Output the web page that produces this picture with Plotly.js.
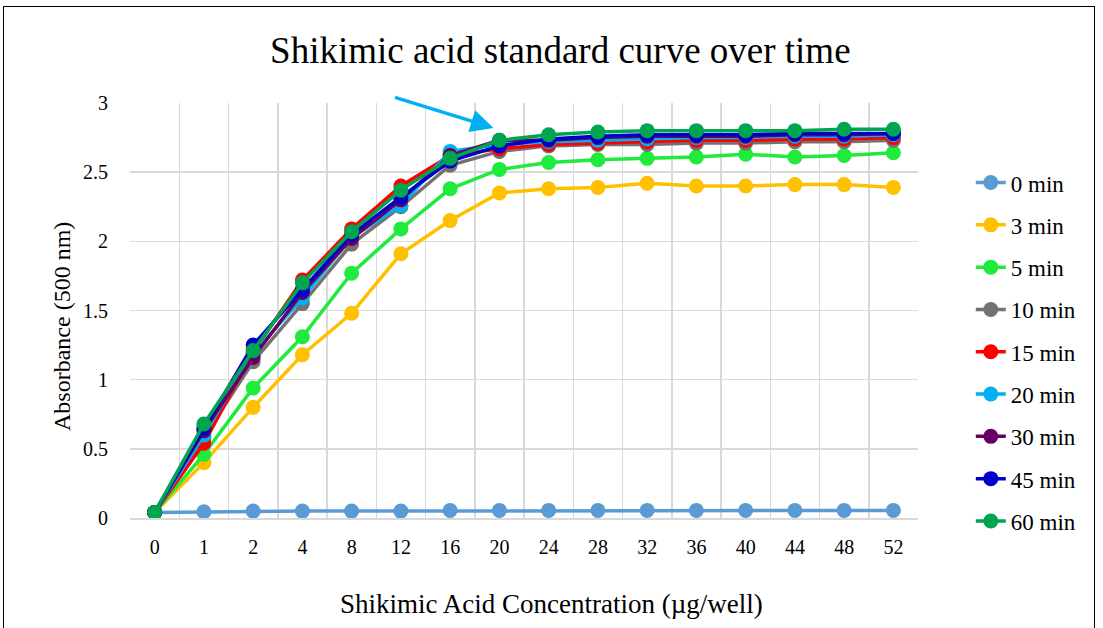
<!DOCTYPE html>
<html>
<head>
<meta charset="utf-8">
<script src="https://cdn.plot.ly/plotly-3.0.1.min.js"></script>
<style>
html,body{margin:0;padding:0;background:#fff;}
#wrap{position:relative;width:1103px;height:628px;overflow:hidden;}
#chart{position:absolute;left:0;top:0;width:1103px;height:628px;}
#frame{position:absolute;left:3px;top:6px;width:1092px;height:640px;border:1.5px solid #000;box-sizing:border-box;pointer-events:none;}
</style>
</head>
<body>
<div id="wrap"><div id="chart"></div><div id="frame"></div></div>
<script>
const categories = ["0","1","2","4","8","12","16","20","24","28","32","36","40","44","48","52"];
const seriesNames = ["0 min","3 min","5 min","10 min","15 min","20 min","30 min","45 min","60 min"];
const min0  = [0.04,0.045,0.05,0.05,0.05,0.05,0.055,0.055,0.055,0.055,0.055,0.055,0.055,0.055,0.055,0.055];
const min3  = [0.04,0.40,0.80,1.18,1.48,1.91,2.15,2.35,2.38,2.39,2.42,2.40,2.40,2.41,2.41,2.39];
const min5  = [0.04,0.46,0.94,1.31,1.77,2.09,2.38,2.52,2.57,2.59,2.60,2.61,2.63,2.61,2.62,2.64];
const min10 = [0.04,0.58,1.13,1.55,1.98,2.25,2.55,2.65,2.69,2.70,2.70,2.71,2.71,2.72,2.72,2.73];
const min15 = [0.04,0.54,1.20,1.72,2.09,2.40,2.62,2.67,2.70,2.71,2.72,2.73,2.73,2.74,2.74,2.75];
const min20 = [0.04,0.60,1.19,1.59,2.03,2.26,2.65,2.70,2.72,2.73,2.74,2.75,2.75,2.76,2.76,2.77];
const min30 = [0.04,0.63,1.16,1.63,2.02,2.30,2.62,2.73,2.73,2.75,2.76,2.76,2.76,2.77,2.77,2.78];
const min45 = [0.04,0.65,1.25,1.65,2.05,2.32,2.58,2.69,2.74,2.76,2.77,2.77,2.77,2.78,2.78,2.78];
const min60 = [0.04,0.68,1.21,1.70,2.07,2.37,2.60,2.73,2.77,2.79,2.80,2.80,2.80,2.80,2.81,2.81];
const seriesValues = [min0,min3,min5,min10,min15,min20,min30,min45,min60];
const colors = ["#5B9BD5","#FFC000","#1EEB3C","#767171","#FF0000","#00B0F0","#660066","#0000CC","#00A550"];

const font = "'Liberation Serif', 'Times New Roman', serif";
const traces = seriesNames.map((n,i)=>({
  type:"scatter", mode:"lines+markers", name:n,
  x:categories, y:seriesValues[i],
  line:{color:colors[i], width:3.5},
  marker:{color:colors[i], size:15},
  legendgroup:"g"+i
}));

const layout = {
  width:1103, height:628,
  margin:{l:130, r:185, t:103, b:110},
  paper_bgcolor:"#fff", plot_bgcolor:"#fff",
  font:{family:font, size:20, color:"#000"},
  title:{text:"Shikimic acid standard curve over time", font:{family:font, size:37, color:"#000"},
         x:0.508, xref:"container", xanchor:"center", y:0.92, yref:"container", yanchor:"middle"},
  xaxis:{type:"category", range:[-0.5,15.5], tickson:"boundaries", showgrid:true, gridcolor:"#D9D9D9", gridwidth:1.5,
         showline:true, linecolor:"#D9D9D9", linewidth:1.5, ticks:"", ticklen:0, ticklabelstandoff:10,
         tickfont:{family:font,size:20,color:"#000"}, automargin:false},
  yaxis:{range:[0,3], tickvals:[0,0.5,1,1.5,2,2.5,3], ticktext:["0","0.5","1","1.5","2","2.5","3"],
         showgrid:true, gridcolor:"#D9D9D9", gridwidth:1.5, zeroline:false, showline:false,
         tickfont:{family:font,size:20,color:"#000"}, ticks:"outside", ticklen:17, tickcolor:"rgba(0,0,0,0)",
         automargin:false},
  legend:{x:1.067, xanchor:"left", y:0.86, yanchor:"top", font:{family:font,size:23,color:"#000"},
          tracegroupgap:9.4, bgcolor:"rgba(0,0,0,0)", itemwidth:30},
  annotations:[
    {text:"Shikimic Acid Concentration (µg/well)", xref:"paper", yref:"paper", x:0.5355, y:-0.207,
     xanchor:"center", yanchor:"middle", showarrow:false, font:{family:font,size:27,color:"#000"}},
    {text:"Absorbance (500 nm)", xref:"paper", yref:"paper", x:-0.0863, y:0.4627, textangle:-90,
     xanchor:"center", yanchor:"middle", showarrow:false, font:{family:font,size:24,color:"#000"}},
    {text:"", xref:"x", yref:"y", x:6.88, y:2.82, ax:-100, ay:-31, showarrow:true,
     arrowcolor:"#00B0F0", arrowwidth:3.5, arrowhead:2, arrowsize:1.3}
  ],
  showlegend:true
};
Plotly.newPlot("chart", traces, layout, {displayModeBar:false, staticPlot:true});
</script>
</body>
</html>
